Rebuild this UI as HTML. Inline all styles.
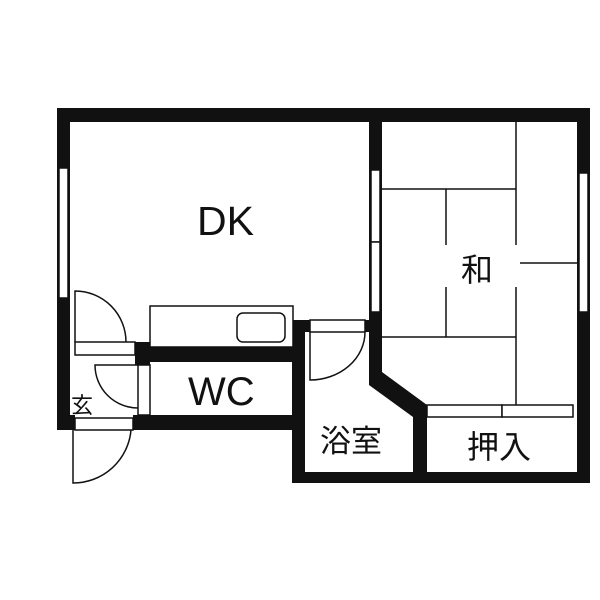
<!DOCTYPE html>
<html><head><meta charset="utf-8"><style>
html,body{margin:0;padding:0;background:#fff}
svg{display:block}
text{font-family:"Liberation Sans","Noto Sans CJK JP",sans-serif;fill:#111}
</style></head><body>
<svg width="600" height="600" viewBox="0 0 600 600" xmlns="http://www.w3.org/2000/svg">
<g fill="#111">
<!-- top wall -->
<rect x="57" y="108" width="533" height="14"/>
<!-- left wall -->
<rect x="57" y="108" width="13" height="322"/>
<!-- right wall -->
<rect x="577" y="108" width="13" height="375"/>
<!-- middle wall -->
<rect x="369" y="108" width="13" height="267"/>
<polygon points="369,372 382,372 427,405 427,472 413,472 413,417 369,385"/>
<!-- bottom wall -->
<rect x="292" y="472" width="298" height="11"/>
<!-- bath left wall -->
<rect x="292" y="320" width="13" height="163"/>
<rect x="292" y="320" width="18" height="12"/>
<rect x="365" y="320" width="17" height="12"/>
<!-- DK/WC wall -->
<rect x="135" y="342" width="158" height="20"/>
<rect x="135" y="342" width="15" height="23"/>
<!-- WC bottom wall -->
<rect x="133" y="415" width="160" height="15"/>
<rect x="57" y="415" width="18" height="15"/>
<!-- closet divider wall -->
<rect x="413" y="405" width="14" height="78"/>
</g>
<g fill="#fff" stroke="#111" stroke-width="1.5">
<!-- windows -->
<rect x="59" y="168" width="9" height="130"/>
<rect x="371" y="170" width="9" height="72"/>
<rect x="371" y="242" width="9" height="70"/>
<rect x="579" y="173" width="9" height="139"/>
<!-- entrance sills -->
<rect x="75" y="342" width="60" height="13"/>
<rect x="75" y="418" width="58" height="12"/>
<!-- WC door frame -->
<rect x="138" y="365" width="12" height="50"/>
<!-- bath door frame -->
<rect x="310" y="320" width="55" height="12"/>
<!-- counter -->
<rect x="150" y="306" width="143" height="41"/>
<rect x="237" y="313" width="48" height="29" rx="6"/>
<!-- closet rails -->
<rect x="427" y="405" width="75" height="12"/>
<rect x="502" y="405" width="71" height="12"/>
</g>
<g fill="none" stroke="#111" stroke-width="1.5">
<!-- entrance door top -->
<path d="M75,342 L75,291 A51,51 0 0 1 126,342"/>
<!-- WC door -->
<path d="M138,365 L95,365 A43,43 0 0 0 138,408"/>
<!-- entrance door bottom -->
<path d="M73,430 L73,483 A58,58 0 0 0 131,430"/>
<!-- bath door -->
<path d="M310,332 L310,380 A55,48 0 0 0 365,332"/>
<!-- tatami -->
<line x1="516" y1="122" x2="516" y2="245"/>
<line x1="516" y1="287" x2="516" y2="405"/>
<line x1="382" y1="189" x2="516" y2="189"/>
<line x1="446" y1="189" x2="446" y2="245"/>
<line x1="446" y1="287" x2="446" y2="337"/>
<line x1="382" y1="337" x2="516" y2="337"/>
<line x1="520" y1="263" x2="577" y2="263"/>
</g>
<text x="197" y="235" font-size="41">DK</text>
<text x="188" y="405" font-size="40">WC</text>
<text x="461" y="281" font-size="32">和</text>
<text x="320" y="452" font-size="31">浴室</text>
<text x="467" y="458" font-size="32">押入</text>
<text x="71" y="413" font-size="22">玄</text>
</svg>
</body></html>
